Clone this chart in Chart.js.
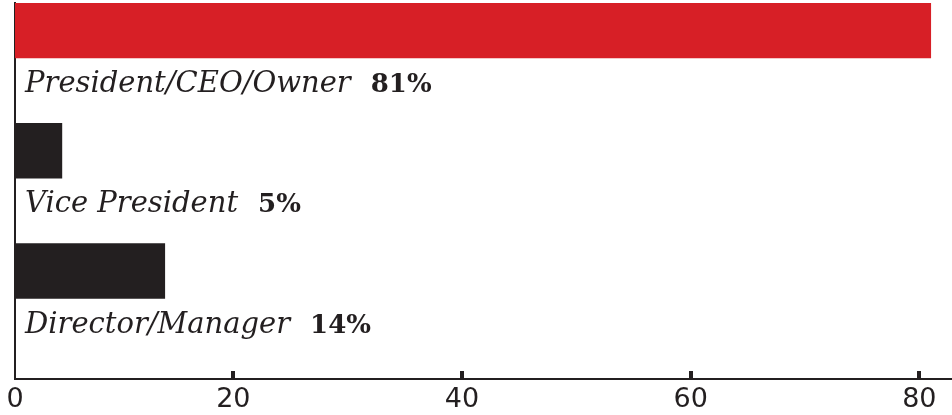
<!DOCTYPE html>
<html>
<head>
<meta charset="utf-8">
<script src="https://cdn.jsdelivr.net/npm/chart.js@4"></script>
<style>
  html, body { margin: 0; padding: 0; background: #fff; }
  #wrap { width: 952px; height: 415px; }
</style>
</head>
<body>
<div id="wrap"><canvas id="roleChart"></canvas></div>
<script>
// data
const roles = ['President/CEO/Owner', 'Vice President', 'Director/Manager'];
const shares = [81, 5, 14];
const tickValues = [0, 20, 40, 60, 80];
const tickLabels = ['0', '20', '40', '60', '80'];
const barColors = ['#d71f26', '#231f20', '#231f20'];

const ink = '#231f20';
// the "0" label sits on the axis, which is a bit right of the true zero
const xMin = 0.9, xMax = 82.86;
const yMin = -0.229, yMax = 2.898;

// labels under each bar: italic role + bold percentage
const barLabels = {
  id: 'barLabels',
  afterDatasetsDraw(chart) {
    const ctx = chart.ctx;
    const meta = chart.getDatasetMeta(0);
    const left = chart.chartArea.left;
    ctx.save();
    ctx.fillStyle = ink;
    ctx.textBaseline = 'alphabetic';
    meta.data.forEach((bar, i) => {
      const y = bar.y + bar.height / 2 + 34;
      ctx.font = 'italic 29px "DejaVu Serif"';
      ctx.fillText(roles[i], left + 10, y);
      const w = ctx.measureText(roles[i]).width;
      ctx.font = 'bold 26px "DejaVu Serif"';
      ctx.fillText(shares[i] + '%', left + 10 + w + 20, y);
    });
    ctx.restore();
  }
};

// short tick marks pointing up into the plot
const tickMarks = {
  id: 'tickMarks',
  afterDraw(chart) {
    const x = chart.scales.x, ctx = chart.ctx;
    ctx.save();
    ctx.fillStyle = ink;
    x.ticks.forEach(t => {
      if (t.value <= x.min) return;
      const px = x.getPixelForValue(t.value);
      ctx.fillRect(Math.round(px) - 2, x.top - 8, 4, 8);
    });
    ctx.restore();
  }
};

const ctx = document.getElementById('roleChart').getContext('2d');
new Chart(ctx, {
  type: 'bar',
  data: {
    datasets: [{
      data: shares.map((v, i) => ({ x: v, y: i })),
      backgroundColor: barColors,
      borderWidth: 0,
      barThickness: 55
    }]
  },
  options: {
    indexAxis: 'y',
    responsive: true,
    maintainAspectRatio: false,
    animation: false,
    layout: { padding: { top: 3, right: 0, bottom: 0, left: 0 } },
    scales: {
      x: {
        type: 'linear',
        min: xMin,
        max: xMax,
        afterBuildTicks: s => {
          s.ticks = tickValues.map(v => ({ value: Math.max(v, s.min) }));
        },
        afterFit: s => { s.height = 36; },
        grid: { display: false, drawTicks: false },
        border: { display: true, color: ink, width: 2 },
        ticks: {
          autoSkip: false,
          maxRotation: 0,
          padding: 5,
          color: ink,
          font: { family: '"DejaVu Sans"', size: 27 },
          callback: (v, i) => tickLabels[i]
        }
      },
      y: {
        type: 'linear',
        reverse: true,
        offset: false,
        min: yMin,
        max: yMax,
        afterFit: s => { s.width = 15; },
        grid: { display: false, drawTicks: false, offset: false },
        border: { display: true, color: ink, width: 2 },
        ticks: { display: false }
      }
    },
    plugins: {
      legend: { display: false },
      tooltip: { enabled: false }
    }
  },
  plugins: [barLabels, tickMarks]
});
</script>
</body>
</html>
